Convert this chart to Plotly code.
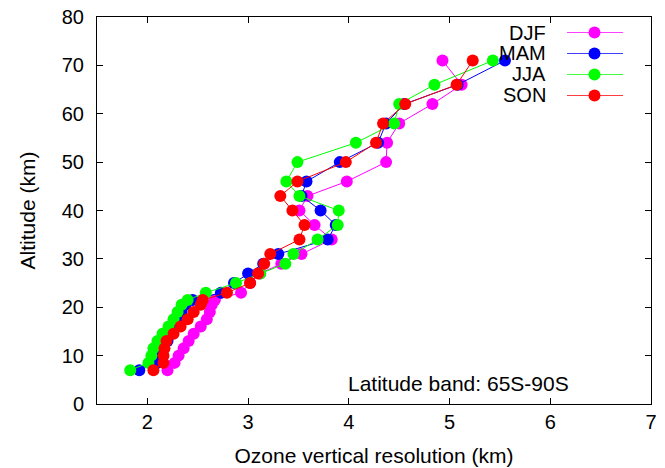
import plotly.graph_objects as go

altitude = [7, 8.5, 10, 11.5, 13, 14.5, 16, 17.5, 19, 20.5, 21.5, 23, 25, 27, 29, 31,
            34, 37, 40, 43, 46, 50, 54, 58, 62, 66, 71]

djf = [2.20, 2.27, 2.31, 2.36, 2.41, 2.46, 2.53, 2.59, 2.62, 2.64, 2.67, 2.93, 3.02, 3.12,
       3.33, 3.53, 3.83, 3.66, 3.51, 3.59, 3.98, 4.37, 4.38, 4.50, 4.83, 5.12, 4.93]
mam = [1.92, 2.10, 2.13, 2.16, 2.20, 2.24, 2.27, 2.30, 2.34, 2.38, 2.45, 2.73, 2.86, 3.00,
       3.15, 3.30, 3.79, 3.87, 3.72, 3.53, 3.58, 3.91, 4.29, 4.37, 4.55, 5.08, 5.55]
jja = [1.83, 2.01, 2.04, 2.06, 2.10, 2.15, 2.21, 2.26, 2.30, 2.34, 2.40, 2.58, 2.88, 3.12,
       3.37, 3.45, 3.69, 3.89, 3.90, 3.51, 3.38, 3.49, 4.07, 4.45, 4.50, 4.85, 5.43]
son = [2.06, 2.16, 2.16, 2.17, 2.19, 2.26, 2.33, 2.40, 2.46, 2.53, 2.55, 2.79, 3.02, 3.10,
       3.16, 3.22, 3.51, 3.56, 3.44, 3.32, 3.49, 3.97, 4.27, 4.34, 4.56, 5.07, 5.23]

season_names = ["DJF", "MAM", "JJA", "SON"]
season_colors = ["#ff00ff", "#0000ff", "#00ff00", "#ff0000"]
season_values = [djf, mam, jja, son]

FONT = "Liberation Sans, Arial, sans-serif"
W, H = 665, 468
ML, MR, MT, MB = 97, 14, 17, 64
PW, PH = W - ML - MR, H - MT - MB

fig = go.Figure()
for name, color, vals in zip(season_names, season_colors, season_values):
    fig.add_trace(go.Scatter(
        x=vals, y=altitude, mode="lines+markers", name=name,
        line=dict(color=color, width=1),
        marker=dict(color=color, size=12, line=dict(width=0)),
        showlegend=False,
    ))

# custom gnuplot-style legend (text right-aligned, sample on the right)
row_px = [32.5, 53.5, 74.5, 95.5]
def px_x(px):
    return (px - ML) / PW
def px_y(py):
    return (H - MB - py) / PH

shapes = []
annotations = []
for name, color, ry in zip(season_names, season_colors, row_px):
    annotations.append(dict(
        x=px_x(548), y=px_y(ry), xref="paper", yref="paper",
        text=name, showarrow=False, xanchor="right", yanchor="middle",
        font=dict(family=FONT, size=20, color="black"),
    ))
    shapes.append(dict(type="line", xref="paper", yref="paper",
                       x0=px_x(567), x1=px_x(623), y0=px_y(ry), y1=px_y(ry),
                       line=dict(color=color, width=1), opacity=0.75))
    shapes.append(dict(type="circle", xref="paper", yref="paper",
                       xsizemode="pixel", ysizemode="pixel",
                       xanchor=px_x(594.5), yanchor=px_y(ry),
                       x0=-6, x1=6, y0=-6, y1=6,
                       fillcolor=color, line=dict(width=0)))

annotations.append(dict(
    x=px_x(458), y=px_y(383), xref="paper", yref="paper",
    text="Latitude band: 65S-90S", showarrow=False,
    xanchor="center", yanchor="middle",
    font=dict(family=FONT, size=21, color="black"),
))

axis_common = dict(
    showgrid=False, zeroline=False, showline=True, linecolor="black", linewidth=1,
    mirror="ticks", ticks="inside", ticklen=6, tickcolor="black", tickwidth=1,
    tickfont=dict(family=FONT, size=20, color="black"), automargin=False,
)

fig.update_layout(
    width=W, height=H,
    margin=dict(l=ML, r=MR, t=MT, b=MB),
    plot_bgcolor="white", paper_bgcolor="white",
    xaxis=dict(range=[1.5, 7], tickvals=[2, 3, 4, 5, 6, 7],
               title=dict(text="Ozone vertical resolution (km)",
                          font=dict(family=FONT, size=21, color="black"), standoff=16),
               ticklabelstandoff=0, **axis_common),
    yaxis=dict(range=[0, 80], tickvals=[0, 10, 20, 30, 40, 50, 60, 70, 80],
               title=dict(text="Altitude (km)",
                          font=dict(family=FONT, size=21, color="black"), standoff=20),
               ticklabelstandoff=8, **axis_common),
    shapes=shapes, annotations=annotations,
    showlegend=False,
)

fig.write_html("out.html")
